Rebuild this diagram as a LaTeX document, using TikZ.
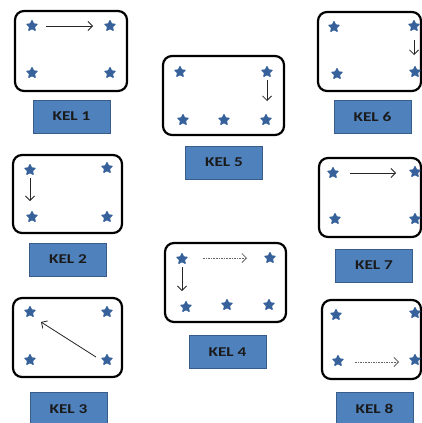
\documentclass[tikz,border=0pt]{standalone}
\usepackage{fontspec}
\setmainfont{Carlito}
\usetikzlibrary{shapes.geometric,arrows.meta}
\definecolor{lblfill}{HTML}{4F81BD}
\definecolor{lbldraw}{HTML}{385D8A}
\definecolor{starc}{HTML}{36619A}
\definecolor{txtc}{HTML}{1A1A1A}
\newcommand{\kel}[1]{\scalebox{1.28}[1]{#1}}
\tikzset{
  frame/.style={draw=black,line width=2.2pt,rounded corners=9pt},
  lbl/.style={draw=lbldraw,line width=0.8pt,fill=lblfill,minimum width=77pt,minimum height=33pt,inner sep=0pt,font=\bfseries\fontsize{13.5}{15}\selectfont,text=txtc},
  st/.style={star,star points=5,star point ratio=2.0,fill=starc,draw=starc,line width=1pt,line join=round,minimum size=11pt,inner sep=0pt},
  arr/.style={-{Straight Barb[length=4.5pt,width=9pt]},line width=0.8pt,draw=black!85},
  darr/.style={arr,dash pattern=on 1.6pt off 1pt,draw=black!60}
}
\begin{document}
\begin{tikzpicture}[x=1pt,y=-1pt]
\useasboundingbox (0,0) rectangle (422,423);
\fill[white] (0,0) rectangle (422,423);
% frames
\draw[frame] (15,11) rectangle (127,91);
\draw[frame] (163,56) rectangle (284,135);
\draw[frame] (318,12) rectangle (421,91);
\draw[frame] (13,155) rectangle (122,233);
\draw[frame] (165,243) rectangle (286,322);
\draw[frame] (319,158) rectangle (421,237);
\draw[frame] (13,298) rectangle (122,377);
\draw[frame] (322,300) rectangle (421,379);
% labels
\node[lbl] (l1) at (71.5,116.5) {\kel{KEL 1}};
\node[lbl] (l5) at (224,162.5) {\kel{KEL 5}};
\node[lbl] (l6) at (372.5,116.5) {\kel{KEL 6}};
\node[lbl] (l2) at (68,259.5) {\kel{KEL 2}};
\node[lbl] (l4) at (227.5,352) {\kel{KEL 4}};
\node[lbl] (l7) at (374,265.5) {\kel{KEL 7}};
\node[lbl] (l3) at (68.5,409) {\kel{KEL 3}};
\node[lbl] (l8) at (374.5,409) {\kel{KEL 8}};
% stars KEL 1
\node[st] (a1) at (32,26) {};
\node[st] (a2) at (110,26) {};
\node[st] (a3) at (32,73) {};
\node[st] (a4) at (110,73) {};
% KEL 5
\node[st] (e1) at (180,72) {};
\node[st] (e2) at (267,72) {};
\node[st] (e3) at (183,120) {};
\node[st] (e4) at (224,120) {};
\node[st] (e5) at (266,120) {};
% KEL 6
\node[st] (f1) at (334,27) {};
\node[st] (f2) at (414,26) {};
\node[st] (f3) at (337,74) {};
\node[st] (f4) at (415,72) {};
% KEL 2
\node[st] (b1) at (30,170) {};
\node[st] (b2) at (107,168) {};
\node[st] (b3) at (32,217) {};
\node[st] (b4) at (107,217) {};
% KEL 4
\node[st] (d1) at (182,259) {};
\node[st] (d2) at (270,258) {};
\node[st] (d3) at (186,307) {};
\node[st] (d4) at (227,305) {};
\node[st] (d5) at (269,305) {};
% KEL 7
\node[st] (g1) at (333,173) {};
\node[st] (g2) at (415,172) {};
\node[st] (g3) at (335,219) {};
\node[st] (g4) at (415,219) {};
% KEL 3
\node[st] (c1) at (30,312) {};
\node[st] (c2) at (107,312) {};
\node[st] (c3) at (30,360) {};
\node[st] (c4) at (107,360) {};
% KEL 8
\node[st] (h1) at (336,315) {};
\node[st] (h2) at (415,313) {};
\node[st] (h3) at (338,361) {};
\node[st] (h4) at (415,360) {};
% arrow end points
\coordinate (a1e) at (46,26);  \coordinate (a2e) at (93,26);
\coordinate (e2s) at (267,80); \coordinate (e2e) at (267,101);
\coordinate (f2s) at (414,40); \coordinate (f2e) at (414,55);
\coordinate (b1s) at (30,178); \coordinate (b1e) at (30,201);
\coordinate (d1s) at (203,258); \coordinate (d1e) at (247,258);
\coordinate (d1a) at (182,267); \coordinate (d1b) at (182,291);
\coordinate (g1s) at (350,173); \coordinate (g1e) at (396,173);
\coordinate (c4s) at (96,357); \coordinate (c4e) at (41,322);
\coordinate (h3s) at (355,362); \coordinate (h3e) at (399,362);
% arrows
\draw[arr] (a1e) -- (a2e);
\draw[arr] (e2s) -- (e2e);
\draw[arr] (f2s) -- (f2e);
\draw[arr] (b1s) -- (b1e);
\draw[darr] (d1s) -- (d1e);
\draw[arr] (d1a) -- (d1b);
\draw[arr] (g1s) -- (g1e);
\draw[arr] (c4s) -- (c4e);
\draw[darr] (h3s) -- (h3e);
\end{tikzpicture}
\end{document}
